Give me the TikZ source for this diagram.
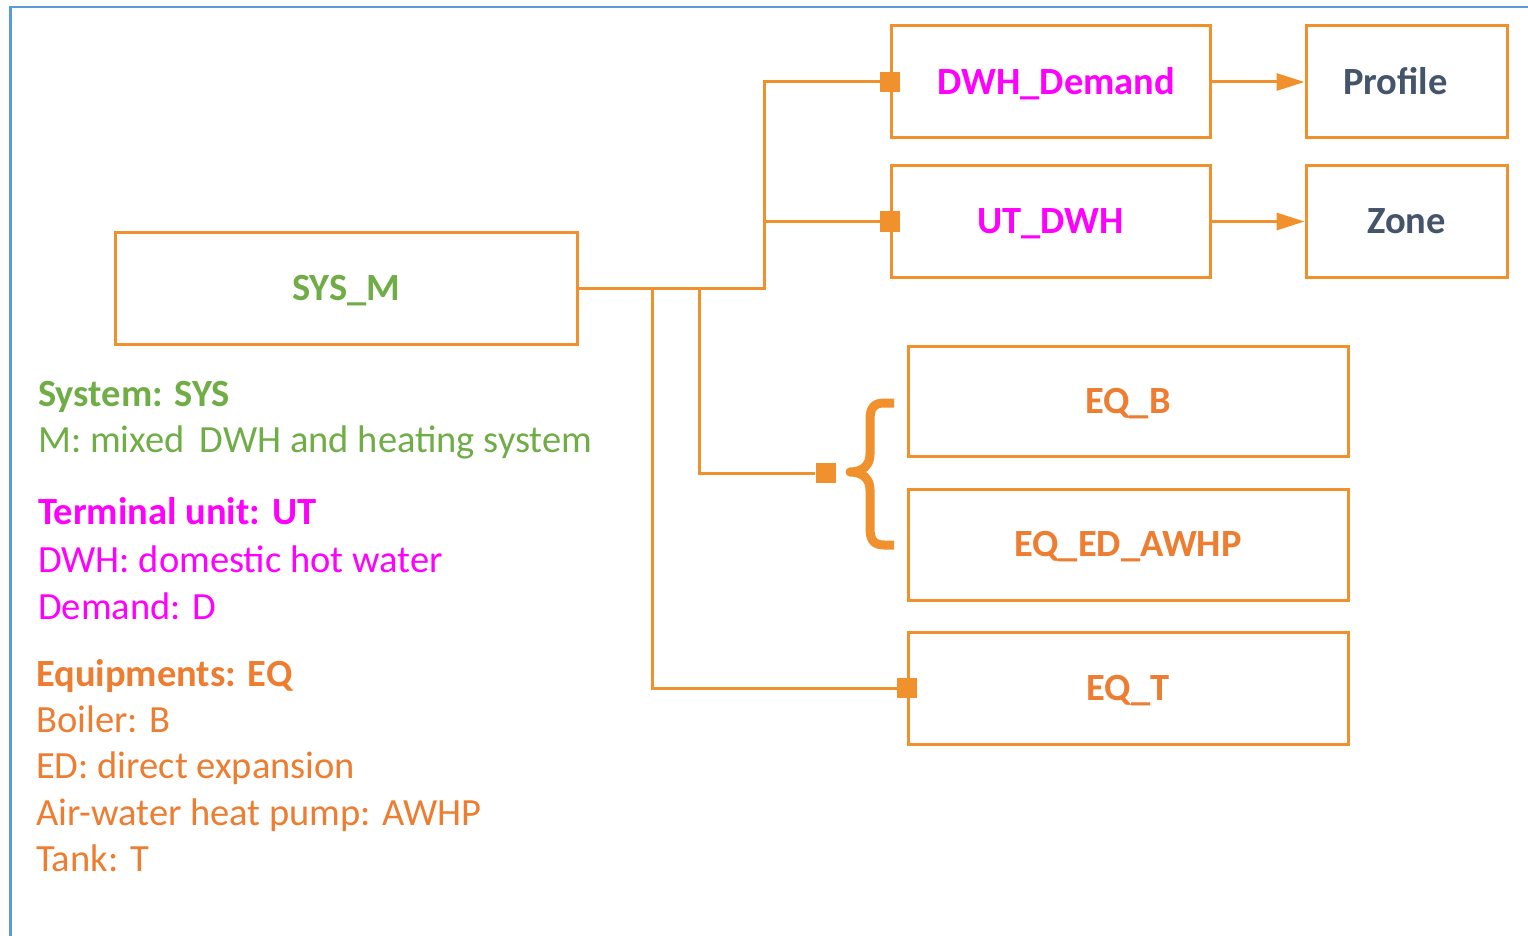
\documentclass[tikz,border=0pt]{standalone}
\usepackage{fontspec}
\setmainfont{Carlito}
\usetikzlibrary{arrows.meta}
\definecolor{lineor}{HTML}{F0912D}
\definecolor{txtor}{HTML}{ED7D31}
\definecolor{grn}{HTML}{70AD47}
\definecolor{mag}{HTML}{FF00FF}
\definecolor{dark}{HTML}{44546A}
\definecolor{frame}{HTML}{5B9BD5}
\tikzset{
  box/.style={draw=lineor, line width=3pt, rectangle, inner sep=0pt, text height=24.8pt, text depth=0pt, font=\fontsize{38.5}{46}\selectfont\bfseries},
  sqmark/.style={fill=lineor, draw=none, rectangle, minimum width=20pt, minimum height=20pt, inner sep=0pt},
  conn/.style={draw=lineor, line width=3pt},
  leg/.style={anchor=base west, inner sep=0pt, font=\fontsize{38.5}{46}\selectfont},
  legh/.style={leg, font=\fontsize{38.5}{46}\selectfont\bfseries},
  arr/.style={conn, -{Triangle[length=28pt,width=17pt]}}
}
\begin{document}
\begin{tikzpicture}[x=1pt,y=-1pt]
\useasboundingbox (0,0) rectangle (1528,936);
\fill[white] (0,0) rectangle (1528,936);
\draw[frame, line width=2.5pt] (1528,7) -- (10.5,7) -- (10.5,936);

% boxes
\node[box, text=grn, minimum width=462pt, minimum height=112pt] (sys) at (346,288) {SYS\_M};
\node[box, text=mag, minimum width=319pt, minimum height=112pt] (dwh) at (1050.5,82) {\hspace*{12pt}DWH\_Demand};
\node[box, text=dark, minimum width=201pt, minimum height=112pt] (prof) at (1406.5,82) {\hspace*{-22pt}Profile};
\node[box, text=mag, minimum width=319pt, minimum height=111pt] (ut) at (1050.5,221.5) {UT\_DWH};
\node[box, text=dark, minimum width=201pt, minimum height=111pt] (zone) at (1406.5,221.5) {Zone};
\node[box, text=txtor, minimum width=440pt, minimum height=110pt] (eqb) at (1128,401) {EQ\_B};
\node[box, text=txtor, minimum width=440pt, minimum height=111pt] (eqed) at (1128,544.5) {EQ\_ED\_AWHP};
\node[box, text=txtor, minimum width=440pt, minimum height=112pt] (eqt) at (1128,688) {EQ\_T};

% junctions
\coordinate (j1) at (764,288);
\coordinate (j2) at (699,288);
\coordinate (j3) at (652,288);

% connectors
\draw[conn] (sys.east) -- (j1) |- (dwh.west);
\draw[conn] (j1 |- ut.west) -- (ut.west);
\node[sqmark] (sqb) at (825.5,473) {};
\draw[conn] (j2) |- (sqb.west);
\draw[conn] (j3) |- (eqt.west);
\node[sqmark] (sqd) at (dwh.west) {};
\node[sqmark] (squ) at (ut.west) {};
\node[sqmark] (sqt) at (eqt.west) {};

\draw[arr] (dwh.east) -- (prof.west);
\draw[arr] (ut.east) -- (zone.west);

% brace
\draw[lineor, line width=9pt, line join=round]
  (894,403) -- (884,403) .. controls (873,403) and (870,409) .. (870,420)
  -- (870,454) .. controls (870,465) and (863,472) .. (850,472)
  .. controls (863,472) and (870,479) .. (870,490)
  -- (870,528) .. controls (870,539) and (873,545) .. (884,545) -- (894,545);

% legend
\node[legh, text=grn] (l1) at (38,406) {System: SYS};
\node[leg, text=grn] (l2) at (38,452) {M: mixed\, DWH and heating system};
\node[legh, text=mag] (l3) at (38,524) {Terminal unit: UT};
\node[leg, text=mag] (l4) at (38,572) {DWH: domestic hot water};
\node[leg, text=mag] (l5) at (38,619) {Demand: D};
\node[legh, text=txtor] (l6) at (36,686) {Equipments: EQ};
\node[leg, text=txtor] (l7) at (36,732) {Boiler: B};
\node[leg, text=txtor] (l8) at (36,778) {ED: direct expansion};
\node[leg, text=txtor] (l9) at (36,825) {Air-water heat pump: AWHP};
\node[leg, text=txtor] (l10) at (36,871) {Tank: T};
\end{tikzpicture}
\end{document}
